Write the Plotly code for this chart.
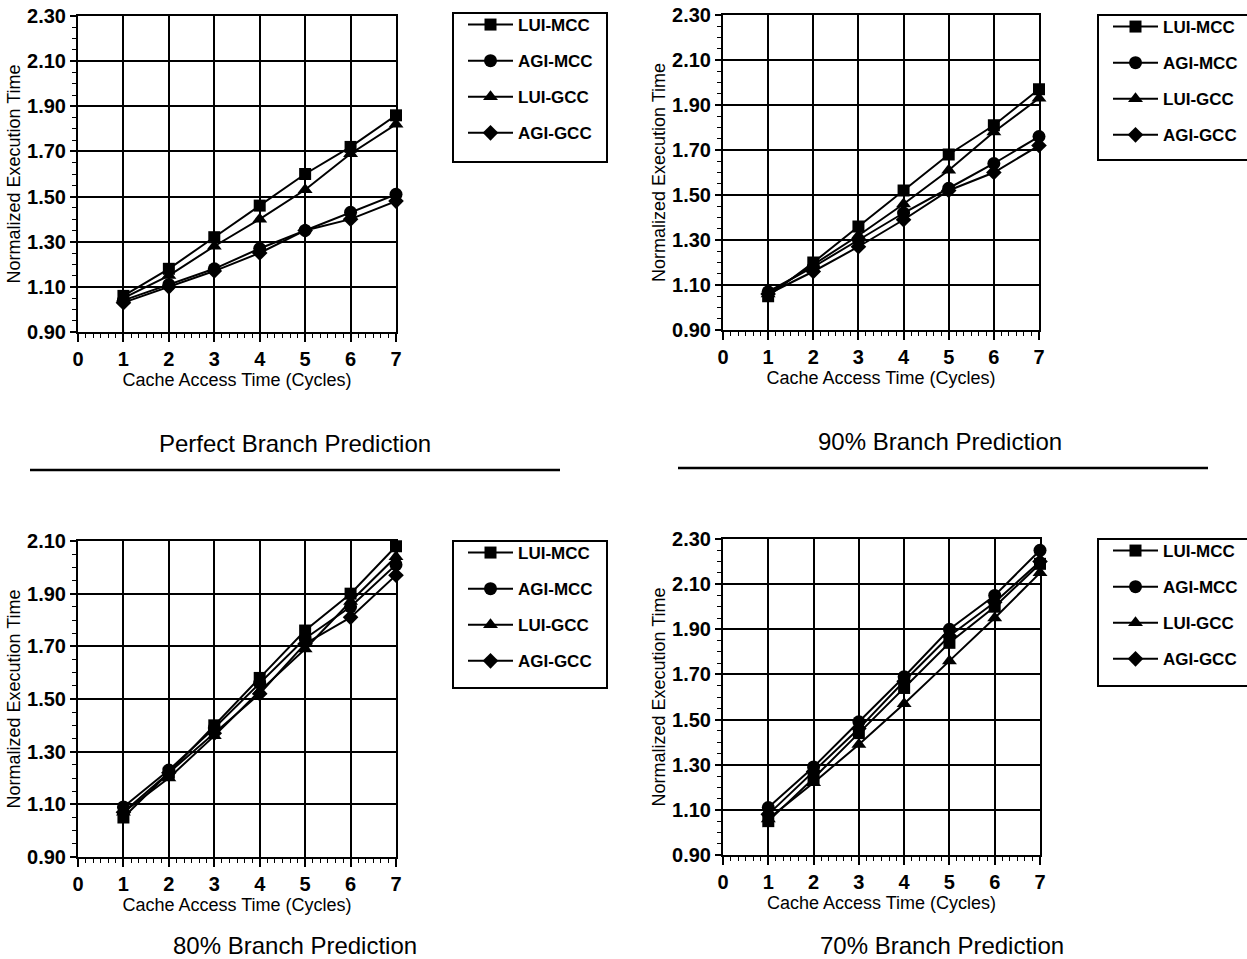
import plotly.graph_objects as go

W, H = 1247, 959

x_cycles = [1, 2, 3, 4, 5, 6, 7]
series_names = ["LUI-MCC", "AGI-MCC", "LUI-GCC", "AGI-GCC"]
series_symbols = ["square", "circle", "triangle-up", "diamond"]
series_sizes = [12, 13, 13, 12]

perfect_lui_mcc = [1.06, 1.18, 1.32, 1.46, 1.60, 1.72, 1.86]
perfect_agi_mcc = [1.04, 1.11, 1.18, 1.27, 1.35, 1.43, 1.51]
perfect_lui_gcc = [1.05, 1.15, 1.28, 1.40, 1.53, 1.69, 1.82]
perfect_agi_gcc = [1.03, 1.10, 1.17, 1.25, 1.35, 1.40, 1.48]

p90_lui_mcc = [1.05, 1.20, 1.36, 1.52, 1.68, 1.81, 1.97]
p90_agi_mcc = [1.07, 1.18, 1.30, 1.42, 1.53, 1.64, 1.76]
p90_lui_gcc = [1.06, 1.19, 1.32, 1.46, 1.61, 1.78, 1.93]
p90_agi_gcc = [1.06, 1.16, 1.27, 1.39, 1.52, 1.60, 1.72]

p80_lui_mcc = [1.05, 1.22, 1.40, 1.58, 1.76, 1.90, 2.08]
p80_agi_mcc = [1.09, 1.23, 1.39, 1.56, 1.73, 1.85, 2.01]
p80_lui_gcc = [1.07, 1.20, 1.36, 1.53, 1.69, 1.87, 2.04]
p80_agi_gcc = [1.07, 1.22, 1.37, 1.52, 1.71, 1.81, 1.97]

p70_lui_mcc = [1.05, 1.24, 1.44, 1.64, 1.84, 2.00, 2.19]
p70_agi_mcc = [1.11, 1.29, 1.49, 1.69, 1.90, 2.05, 2.25]
p70_lui_gcc = [1.06, 1.22, 1.39, 1.57, 1.76, 1.95, 2.15]
p70_agi_gcc = [1.08, 1.27, 1.46, 1.67, 1.87, 2.02, 2.20]

panel_titles = ["Perfect Branch Prediction", "90% Branch Prediction",
                "80% Branch Prediction", "70% Branch Prediction"]
panel_series = [
    [perfect_lui_mcc, perfect_agi_mcc, perfect_lui_gcc, perfect_agi_gcc],
    [p90_lui_mcc, p90_agi_mcc, p90_lui_gcc, p90_agi_gcc],
    [p80_lui_mcc, p80_agi_mcc, p80_lui_gcc, p80_agi_gcc],
    [p70_lui_mcc, p70_agi_mcc, p70_lui_gcc, p70_agi_gcc],
]
panel_yranges = [[0.90, 2.30], [0.90, 2.30], [0.90, 2.10], [0.90, 2.30]]
x_title = "Cache Access Time (Cycles)"
y_title = "Normalized Execution Time"

# pixel geometry (left, right, top, bottom)
plot_boxes = [(78, 396, 16, 332), (723, 1039, 15, 330),
              (78, 396, 541, 857), (723, 1040, 539, 855)]
legend_boxes = [(453, 607, 13, 162), (1098, 1252, 15, 160),
                (453, 607, 541, 688), (1098, 1252, 539, 686)]
title_pos = [(295, 443), (940, 441), (295, 945), (942, 945)]
rules = [(30, 560, 470), (678, 1208, 468)]

FONT = "Liberation Sans, Arial, Helvetica, sans-serif"
FONT_B = "Liberation Sans, Arial, Helvetica, sans-serif"

def px(x):
    return x / W

def py(y):
    return 1 - y / H

fig = go.Figure()
layout = dict(width=W, height=H, margin=dict(l=0, r=0, t=0, b=0, autoexpand=False),
              paper_bgcolor="white", plot_bgcolor="white",
              font=dict(family=FONT, color="black"), showlegend=True)
shapes = []
annotations = []

for i in range(4):
    sfx = "" if i == 0 else str(i + 1)
    lg = "legend" if i == 0 else "legend" + str(i + 1)
    for j in range(4):
        fig.add_trace(go.Scatter(
            x=x_cycles, y=panel_series[i][j], name=series_names[j],
            mode="lines+markers", xaxis="x" + sfx, yaxis="y" + sfx,
            line=dict(color="black", width=2),
            marker=dict(symbol=series_symbols[j], size=series_sizes[j], color="black"),
            cliponaxis=False, legend=lg, legendgroup="g%d_%d" % (i, j),
        ))
    l, r, t, b = plot_boxes[i]
    layout["xaxis" + sfx] = dict(
        domain=[px(l), px(r)], anchor="y" + sfx, range=[0, 7], automargin=False,
        tickmode="linear", tick0=0, dtick=1, ticks="outside", ticklen=8,
        tickwidth=1.5, tickcolor="black", showline=True, linecolor="black",
        linewidth=2, mirror=True, showgrid=True, gridcolor="black", gridwidth=1.5,
        zeroline=False, tickfont=dict(size=20, family=FONT_B, weight="bold"),
        minor=dict(dtick=1 / 6, ticks="outside", ticklen=4, tickcolor="black",
                   tickwidth=1, showgrid=False),
        title=dict(text=x_title, font=dict(size=18, family=FONT), standoff=4),
    )
    y0, y1 = panel_yranges[i]
    layout["yaxis" + sfx] = dict(
        domain=[py(b), py(t)], anchor="x" + sfx, range=[y0, y1], automargin=False,
        tickmode="linear", tick0=0.9, dtick=0.2, tickformat=".2f",
        ticks="outside", ticklen=6, tickwidth=1.5, tickcolor="black",
        showline=True, linecolor="black", linewidth=2, mirror=True,
        showgrid=True, gridcolor="black", gridwidth=1.5, zeroline=False,
        tickfont=dict(size=20, family=FONT_B, weight="bold"),
        minor=dict(dtick=0.05, ticks="outside", ticklen=4, tickcolor="black",
                   tickwidth=1, showgrid=False),
        title=dict(text=y_title, font=dict(size=18, family=FONT), standoff=2),
    )
    L, R, T, B = legend_boxes[i]
    shapes.append(dict(type="rect", xref="paper", yref="paper",
                       x0=px(L), x1=px(R), y0=py(B), y1=py(T),
                       line=dict(color="black", width=2), fillcolor="rgba(0,0,0,0)",
                       layer="above"))
    layout[lg] = dict(x=px(L + 10), y=py(T - 6), xanchor="left", yanchor="top",
                      bgcolor="rgba(0,0,0,0)", borderwidth=0,
                      font=dict(size=17, family=FONT_B, weight="bold"), itemwidth=45,
                      tracegroupgap=11)
    tx, ty = title_pos[i]
    annotations.append(dict(text=panel_titles[i], xref="paper", yref="paper",
                            x=px(tx), y=py(ty), xanchor="center", yanchor="middle",
                            showarrow=False, font=dict(size=24, family=FONT)))

for (a, b, yy) in rules:
    shapes.append(dict(type="line", xref="paper", yref="paper",
                       x0=px(a), x1=px(b), y0=py(yy), y1=py(yy),
                       line=dict(color="black", width=2.5)))

layout["shapes"] = shapes
layout["annotations"] = annotations
fig.update_layout(**layout)
fig.write_html("out.html")
